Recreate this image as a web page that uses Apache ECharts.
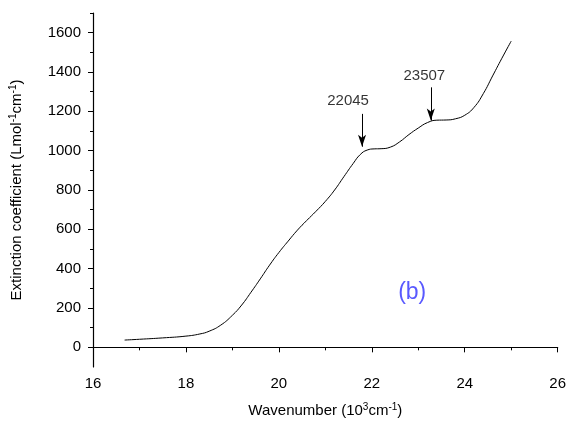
<!DOCTYPE html>
<html>
<head>
<meta charset="utf-8">
<script src="https://cdn.jsdelivr.net/npm/echarts@6/dist/echarts.min.js"></script>
<style>
  html, body { margin: 0; padding: 0; background: #fff; }
  #chart { width: 569px; height: 423px; }
</style>
</head>
<body>
<div id="chart"></div>
<script>
// wavenumber (10^3 cm^-1) and extinction coefficient
const wavenumber = [16.68, 17.0, 17.5, 18.0, 18.3, 18.5, 18.75, 19.0, 19.2, 19.4, 19.6, 19.8, 20.0, 20.2, 20.4, 20.6, 20.8, 21.0, 21.2, 21.4, 21.6, 21.75, 21.9, 22.05, 22.2, 22.4, 22.6, 22.8, 23.0, 23.2, 23.4, 23.6, 23.8, 24.0, 24.2, 24.4, 24.6, 24.8, 25.0];
const extinction = [37, 41, 48, 57, 68, 82, 113, 163, 215, 280, 348, 418, 482, 540, 596, 645, 692, 742, 800, 868, 935, 980, 1003, 1009, 1010, 1018, 1045, 1082, 1115, 1143, 1155, 1156, 1162, 1180, 1220, 1290, 1380, 1470, 1557];

// peak arrows: [x, from, to] and their labels
const peakNames = ['22045', '23507'];
const peakArrows = [[21.79, 1187, 1020], [23.27, 1322, 1153]];
const peakLabelPos = [[21.49, 1254], [23.13, 1380]];

const yMajor = [0, 200, 400, 600, 800, 1000, 1200, 1400, 1600];
const yMinor = [100, 300, 500, 700, 900, 1100, 1300, 1500, 1700];

const chart = echarts.init(document.getElementById('chart'));
const axisColor = '#000';
const font = 'Liberation Sans, Arial, sans-serif';

chart.setOption({
  animation: false,
  grid: { left: 93, right: 10, top: 13, bottom: 54 },
  xAxis: {
    type: 'value',
    min: 16, max: 26, interval: 2,
    name: 'Wavenumber (10{sup|3}cm{sup|-1})',
    nameLocation: 'middle',
    nameGap: 35,
    nameTextStyle: {
      color: axisColor, fontSize: 15, fontFamily: font,
      rich: { sup: { fontSize: 10, padding: [0, 0, 7, 0], color: axisColor, fontFamily: font } }
    },
    axisLine: { lineStyle: { color: axisColor, width: 1.2 } },
    axisTick: { length: 5, lineStyle: { color: axisColor } },
    minorTick: { show: true, splitNumber: 2, length: 3, lineStyle: { color: axisColor } },
    axisLabel: { color: axisColor, fontSize: 15, fontFamily: font, margin: 9 },
    splitLine: { show: false }
  },
  yAxis: [{
    type: 'value',
    min: -100, max: 1700,
    name: 'Extinction coefficient (Lmol{sup|-1}cm{sup|-1})',
    nameLocation: 'middle',
    nameGap: 68,
    nameTextStyle: {
      color: axisColor, fontSize: 15, fontFamily: font,
      rich: { sup: { fontSize: 10, padding: [0, 0, 7, 0], color: axisColor, fontFamily: font } }
    },
    axisLine: { show: true, lineStyle: { color: axisColor, width: 1.2 } },
    axisTick: { show: true, length: 5, customValues: yMajor, lineStyle: { color: axisColor } },
    axisLabel: {
      color: axisColor, fontSize: 15, fontFamily: font, margin: 12,
      customValues: yMajor, formatter: v => String(v)
    },
    splitLine: { show: false }
  }, {
    // minor ticks only
    type: 'value',
    min: -100, max: 1700,
    position: 'left',
    axisLine: { show: false },
    axisTick: { show: true, length: 3, customValues: yMinor, lineStyle: { color: axisColor } },
    axisLabel: { show: false },
    splitLine: { show: false }
  }],
  series: [{
    type: 'line',
    data: wavenumber.map((x, i) => [x, extinction[i]]),
    smooth: 0.5,
    symbol: 'none',
    lineStyle: { color: '#000', width: 1 },
    markLine: {
      silent: true,
      symbol: ['none', 'arrow'],
      symbolSize: [6, 12],
      label: { show: false },
      lineStyle: { color: '#000', width: 1, type: 'solid' },
      data: peakArrows.map(a => [{ coord: [a[0], a[1]] }, { coord: [a[0], a[2]] }])
    }
  }, {
    type: 'scatter',
    symbolSize: 0,
    silent: true,
    data: peakLabelPos.map((p, i) => ({ value: p, name: peakNames[i] })),
    label: {
      show: true, position: 'inside', formatter: '{b}',
      color: axisColor, fontSize: 15, fontFamily: font
    }
  }, {
    type: 'scatter',
    symbolSize: 0,
    silent: true,
    data: [{ value: [22.87, 278], name: '(b)' }],
    label: {
      show: true, position: 'inside', formatter: '{b}',
      color: '#2f2fff', fontSize: 23, fontFamily: font
    }
  }]
});
</script>
</body>
</html>
